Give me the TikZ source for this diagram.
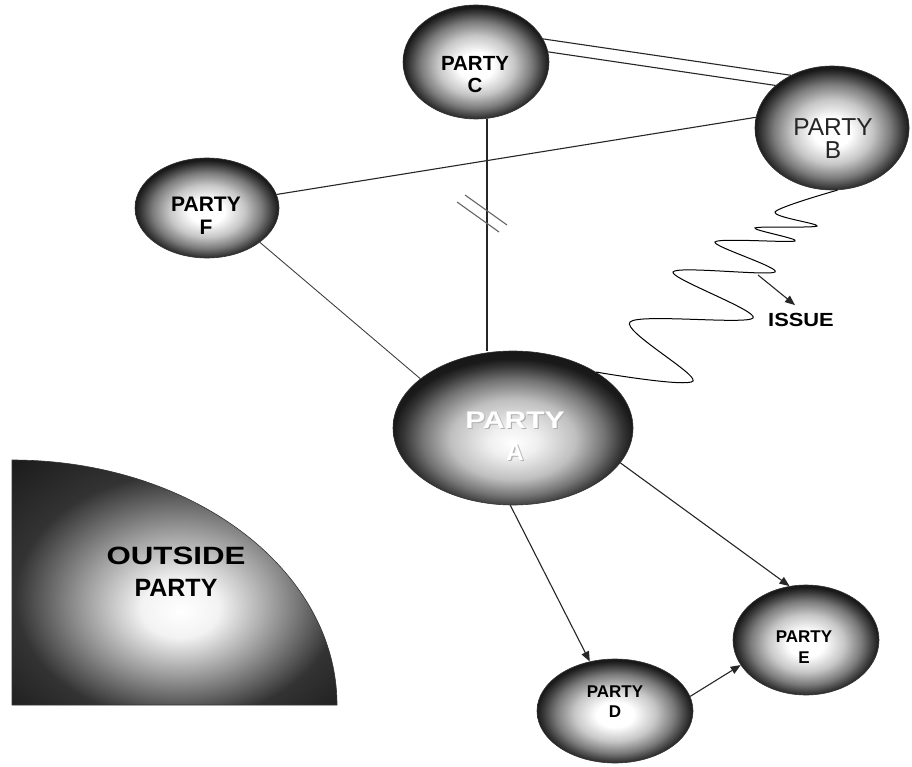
\documentclass[tikz,border=0pt]{standalone}
\usepackage{fontspec}
\setmainfont{Liberation Sans}
\usetikzlibrary{shapes.geometric,arrows.meta}
\pgfdeclareradialshading{sphere}{\pgfpoint{0bp}{-2bp}}{color(0bp)=(white); color(6bp)=(white); color(13bp)=(black!22); color(19bp)=(black!52); color(23bp)=(black!78); color(25bp)=(black!90); color(50bp)=(black)}
\pgfdeclareradialshading{sphereA}{\pgfpoint{0bp}{-5bp}}{color(0bp)=(white); color(5bp)=(black!6); color(13bp)=(black!25); color(19bp)=(black!55); color(23bp)=(black!80); color(25bp)=(black!90); color(50bp)=(black)}
\pgfdeclareradialshading{quarter}{\pgfpoint{1bp}{-6bp}}{color(0bp)=(white); color(6bp)=(white!95!black); color(15bp)=(black!40); color(25bp)=(black!80); color(50bp)=(black)}
\begin{document}
\begin{tikzpicture}[x=1pt,y=-1pt,
  party/.style={ellipse, draw=black!80, line width=0.6pt, shade, shading=sphere, inner sep=0pt},
  lbl/.style={align=center, inner sep=0pt, text=black},
  con/.style={line width=1.1pt, black!85},
  arr/.style={con, -{Triangle[length=10pt,width=8pt]}}]
\useasboundingbox (0,0) rectangle (912,767);

% outside party
\shade[shading=quarter, draw=black!80, line width=0.6pt] (12,705) -- (12,460) arc[start angle=90, end angle=0, x radius=325pt, y radius=245pt] -- cycle;
\node[lbl, font=\bfseries\fontsize{25}{32}\selectfont] (out) at (176,572) {\scalebox{1.25}[1]{OUTSIDE}\\PARTY};

% parties
\node[party, minimum width=146pt, minimum height=114pt] (C) at (476,62) {};
\node[party, minimum width=154pt, minimum height=124pt] (B) at (832,128) {};
\node[party, minimum width=144pt, minimum height=100pt] (F) at (207,208) {};
\node[party, shading=sphereA, minimum width=240pt, minimum height=154pt] (A) at (513,428) {};
\node[party, minimum width=156pt, minimum height=104pt] (D) at (615,711) {};
\node[party, minimum width=146pt, minimum height=110pt] (E) at (806,640) {};

\node[lbl, font=\bfseries\fontsize{20.5}{21.5}\selectfont] (Ct) at (475,74.5) {PARTY\\C};
\node[lbl, font=\fontsize{24.5}{23}\selectfont, text=black!85] (Bt) at (833,138.5) {PARTY\\B};
\node[lbl, font=\bfseries\fontsize{21}{23}\selectfont] (Ft) at (206,215.5) {PARTY\\F};
\node[lbl, font=\bfseries\fontsize{24}{32}\selectfont, text=black!30] (As) at (516.2,437.2) {\scalebox{1.25}[1]{PARTY}\\A};
\node[lbl, font=\bfseries\fontsize{24}{32}\selectfont, text=white] (At) at (515,436) {\scalebox{1.25}[1]{PARTY}\\A};
\node[lbl, font=\bfseries\fontsize{17}{20}\selectfont] (Dt) at (615,702) {PARTY\\D};
\node[lbl, font=\bfseries\fontsize{17}{21}\selectfont] (Et) at (804,647.5) {PARTY\\E};

% connectors
\draw[con] (C.19) -- (B.128);
\draw[con] (C.8) -- (B.143);
\draw[con] (F.11) -- (B.172);
\draw[con] (C.-79) -- (C.-79 |- A.north);
\draw[con, black!75, line width=0.9pt] (F.-33) -- (A.152);
\draw[black!60, line width=1.1pt] (465,195) -- (507,225);
\draw[black!60, line width=1.1pt] (457,202) -- (499,232);
\draw[arr] (A.-92) -- (D.117);
\draw[arr] (A.-18.6) -- (E.107);
\draw[arr] (D.11) -- (E.201);

% wavy issue line
\draw[line width=1pt] plot[smooth, tension=0.5] coordinates {(B.-85) (775,212) (817,226) (755,228) (795,241) (715,242) (775,272) (673,272) (753,318) (630,322) (693,381) (A.34.3)};
\node[lbl, font=\bfseries\fontsize{19}{19}\selectfont] (issue) at (801,320) {\scalebox{1.15}[1]{ISSUE}};
\coordinate (w) at (758,275);
\draw[arr] (w) -- ([xshift=-6pt,yshift=8pt]issue.north);
\end{tikzpicture}
\end{document}
